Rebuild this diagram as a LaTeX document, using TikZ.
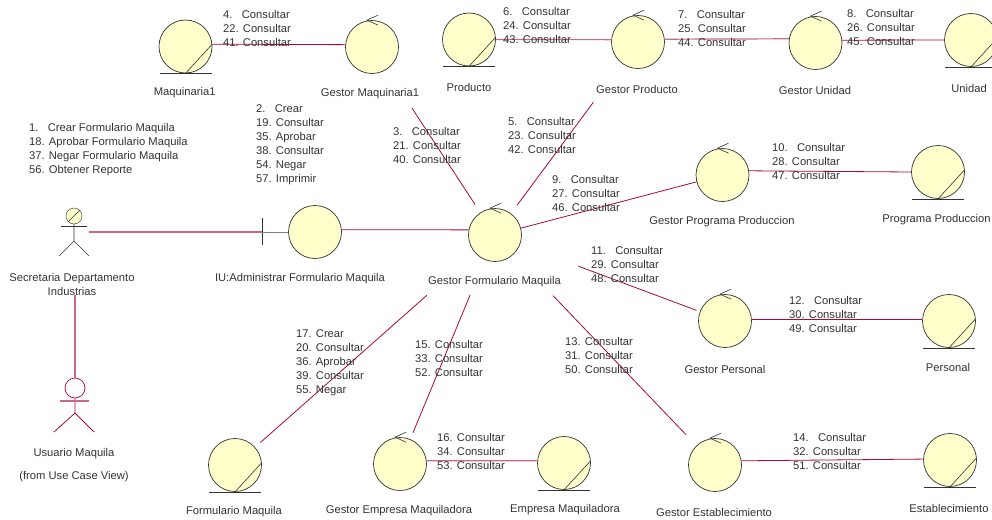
\documentclass[tikz,border=0pt]{standalone}
\usepackage{fontspec}
\setmainfont{Liberation Sans}
\usetikzlibrary{shapes, arrows}
\definecolor{robusta}{HTML}{FFFFCC}
\definecolor{linkred}{HTML}{A8083F}
\definecolor{linksoft}{HTML}{C9688A}
\definecolor{inkgray}{HTML}{333333}
\tikzset{
	ball/.style={circle, draw=inkgray, fill=robusta, minimum size=53pt, inner sep=0pt, line width=0.7pt},
	lbl/.style={text=inkgray, align=center, inner sep=0pt, yshift=-1pt, font=\fontsize{11.2}{14}\selectfont},
	msg/.style={text=inkgray, align=left, anchor=north west, inner sep=0pt, yshift=-1pt, font=\fontsize{11.2}{14}\selectfont},
	link/.style={draw=linkred, line width=0.8pt},
	softlink/.style={draw=linksoft, line width=1.2pt},
	glyph/.style={draw=inkgray, line width=0.6pt}
}
\begin{document}
\begin{tikzpicture}[x=1pt, y=-1pt]
		\useasboundingbox (0,0) rectangle (992,519);
		\node at (185.5,46.5) [ball] (maq) {};
		\node at (372,47) [ball] (gmaq) {};
		\node at (469,39.5) [ball] (prod) {};
		\node at (638,42) [ball] (gprod) {};
		\node at (815.5,43) [ball] (guni) {};
		\node at (971,40) [ball] (uni) {};
		\node at (315,232) [ball] (iu) {};
		\node at (495,235) [ball] (gform) {};
		\node at (722.5,175) [ball] (gprog) {};
		\node at (938,172) [ball] (prog) {};
		\node at (725,321) [ball] (gpers) {};
		\node at (949,321) [ball] (pers) {};
		\node at (715,465) [ball] (gest) {};
		\node at (950,460) [ball] (est) {};
		\node at (564,463) [ball] (emp) {};
		\node at (400,464) [ball] (gemp) {};
		\node at (235,465) [ball] (form) {};
		\foreach \n in {gmaq, gprod, guni, gform, gprog, gpers, gest, gemp}
			\draw[glyph] ([shift={(6,-5)}]\n.north) -- ([xshift=-5pt]\n.north) -- ([shift={(6,5)}]\n.north);
		\foreach \n in {maq, prod, uni, prog, pers, est, emp, form}
		{
			\draw[glyph] (\n.south) -- (\n.5);
			\draw[glyph] ([xshift=-26pt]\n.south) -- ([xshift=26pt]\n.south);
		}
		\node at (74,216) [circle, draw=inkgray, fill=robusta, minimum size=16pt, inner sep=0pt] (sec) {};
		\draw[glyph] (sec.225) -- (sec.45);
		\draw[glyph] (sec.south) -- (74,241) -- (59,256);
		\draw[glyph] (74,241) -- (89,256);
		\draw[glyph] (61,226) -- (87,226);
		\node at (75,388) [circle, draw=linkred, minimum size=20pt, inner sep=0pt, line width=0.7pt] (usu) {};
		\draw[link] (usu.south) -- (75,413) -- (54,432);
		\draw[link] (75,413) -- (94,432);
		\draw[softlink] (60,401) -- (89,401);
		\coordinate (hand) at (89,232);
		\coordinate (iubar) at (262,232);
		\draw[line width=0.8pt, draw=inkgray] (262,218) -- (262,245);
		\draw[draw=gray, line width=1pt] (iubar) -- (iu.west);
		\draw[softlink] (hand) -- (iubar);
		\node at (72,283) [lbl] (lblsec) {Secretaria Departamento\\Industrias};
		\draw[softlink] (usu.north) -- (usu.north |- lblsec.south);
		\draw[link] (maq.5) -- (gmaq.175);
		\draw[softlink] (prod.0) -- (gprod.175);
		\draw[softlink] (gprod.6) -- (guni.171);
		\draw[link] (guni.6) -- (uni.180);
		\draw[link] (gprog.9) -- (prog.180);
		\draw[link] (gpers.4) -- (pers.176);
		\draw[softlink] (gemp.7) -- (emp.175);
		\draw[link] (gest.9) -- (est.178);
		\draw[link] (iu.5) -- (gform.169);
		\draw[link] (gform) -- (gprog);
		\draw[link, shorten <=46pt, shorten >=9.5pt] (gmaq) -- (gform);
		\draw[link, shorten <=48pt, shorten >=10pt] (gprod) -- (gform);
		\draw[link, shorten <=62pt, shorten >=3.5pt] (gform) -- (gpers);
		\draw[link, shorten <=57pt, shorten >=15pt] (gform) -- (gest);
		\draw[link, shorten <=38pt, shorten >=7pt] (gform) -- (gemp);
		\draw[link, shorten <=64pt, shorten >=7pt] (gform) -- (form);
		\node at (184.7,92) [lbl] (lblmaq) {Maquinaria1};
		\node at (370,93) [lbl] (lblgmaq) {Gestor Maquinaria1};
		\node at (469,86) [lbl] (lblprod) {Producto};
		\node at (637,88) [lbl] (lblgprod) {Gestor Producto};
		\node at (815,89) [lbl] (lblguni) {Gestor Unidad};
		\node at (969,87) [lbl] (lbluni) {Unidad};
		\node at (300,278) [lbl] (lbliu) {IU:Administrar Formulario Maquila};
		\node at (494.5,281) [lbl] (lblgform) {Gestor Formulario Maquila};
		\node at (722,221) [lbl] (lblgprog) {Gestor Programa Produccion};
		\node at (936.5,219) [lbl] (lblprog) {Programa Produccion};
		\node at (725,368) [lbl] (lblgpers) {Gestor Personal};
		\node at (948,366) [lbl] (lblpers) {Personal};
		\node at (714,511) [lbl] (lblgest) {Gestor Establecimiento};
		\node at (949,507) [lbl] (lblest) {Establecimiento};
		\node at (565,509) [lbl] (lblemp) {Empresa Maquiladora};
		\node at (399,510) [lbl] (lblgemp) {Gestor Empresa Maquiladora};
		\node at (234,511) [lbl] (lblform) {Formulario Maquila};
		\node at (74,453) [lbl] (lblusu) {Usuario Maquila};
		\node at (74,476) [lbl] (lblfrom) {(from Use Case View)};
		\node at (29,122) [msg] (msgsec) {1.\ \ \ Crear Formulario Maquila\\18. Aprobar Formulario Maquila\\37. Negar Formulario Maquila\\56. Obtener Reporte};
		\node at (256,103) [msg] (msgiu) {2.\ \ \ Crear\\19. Consultar\\35. Aprobar\\38. Consultar\\54. Negar\\57. Imprimir};
		\node at (393,126) [msg] (msggmaq) {3.\ \ \ Consultar\\21. Consultar\\40. Consultar};
		\node at (223,9) [msg] (msgmaq) {4.\ \ \ Consultar\\22. Consultar\\41. Consultar};
		\node at (508,116) [msg] (msggprod) {5.\ \ \ Consultar\\23. Consultar\\42. Consultar};
		\node at (503,6) [msg] (msgprod) {6.\ \ \ Consultar\\24. Consultar\\43. Consultar};
		\node at (678,9) [msg] (msgguni) {7.\ \ \ Consultar\\25. Consultar\\44. Consultar};
		\node at (847,8) [msg] (msguni) {8.\ \ \ Consultar\\26. Consultar\\45. Consultar};
		\node at (552,174) [msg] (msggprog) {9.\ \ \ Consultar\\27. Consultar\\46. Consultar};
		\node at (772,142) [msg] (msgprog) {10.\ \ \ Consultar\\28. Consultar\\47. Consultar};
		\node at (591,245) [msg] (msggpers) {11.\ \ \ Consultar\\29. Consultar\\48. Consultar};
		\node at (789,295) [msg] (msgpers) {12.\ \ \ Consultar\\30. Consultar\\49. Consultar};
		\node at (565,336) [msg] (msggest) {13. Consultar\\31. Consultar\\50. Consultar};
		\node at (793,432) [msg] (msgest) {14.\ \ \ Consultar\\32. Consultar\\51. Consultar};
		\node at (415,339) [msg] (msggemp) {15. Consultar\\33. Consultar\\52. Consultar};
		\node at (437,432) [msg] (msgemp) {16. Consultar\\34. Consultar\\53. Consultar};
		\node at (296,328) [msg] (msgform) {17. Crear\\20. Consultar\\36. Aprobar\\39. Consultar\\55. Negar};
\end{tikzpicture}
\end{document}
